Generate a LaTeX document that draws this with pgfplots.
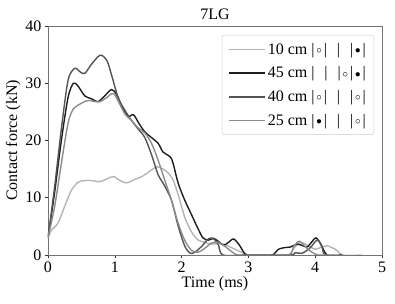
\documentclass[border=0pt]{standalone}
\usepackage{fontspec}
\setmainfont{Liberation Serif}
\usepackage{pgfplots}
\pgfplotsset{compat=1.18}
\definecolor{cA}{HTML}{B4B4B4}
\definecolor{cB}{HTML}{1E1E1E}
\definecolor{cC}{HTML}{545454}
\definecolor{cD}{HTML}{8C8C8C}
\newcommand{\fs}{\fontsize{16}{19}\selectfont}
\newcommand{\oo}{\hspace{0.12em}\raisebox{0.1ex}{$\scriptstyle\circ$}\hspace{0.12em}}
\newcommand{\bb}{\hspace{0.12em}\raisebox{0.1ex}{$\scriptstyle\bullet$}\hspace{0.12em}}
\newcommand{\br}{\hspace{0.62em}}
\begin{document}
\begin{tikzpicture}
\begin{axis}[
  scale only axis, width=334pt, height=229pt,
  xmin=0, xmax=5, ymin=0, ymax=40,
  xtick={0,1,2,3,4,5}, ytick={0,10,20,30,40},
  /pgf/number format/assume math mode=true,
  tick label style={font=\fs, black},
  label style={font=\fs},
  title style={font=\fs, yshift=-3pt},
  title={7LG},
  xlabel={Time (ms)}, ylabel={Contact force (kN)},
  xlabel style={yshift=3pt}, ylabel style={yshift=-2pt},
  axis line style={black!55, line width=0.8pt},
  tick style={black!80, line width=0.6pt},
  tick align=outside, major tick length=3pt,
  xtick pos=bottom, ytick pos=left,
  legend style={at={(1,1)}, anchor=north east, xshift=-8pt, yshift=-9pt,
    font=\fs, draw=black!20, rounded corners=2pt, fill=white,
    row sep=7pt, inner xsep=6pt, inner ysep=6pt},
  legend cell align=left,
  legend image code/.code={\draw[#1, line width=1.6pt] (0pt,0pt) -- (36pt,0pt);},
  every axis plot/.append style={line width=1.4pt, smooth, tension=0.5},
]
\addplot[cA] coordinates {
(0,3.0)(0.05,4.3)(0.15,5.6)(0.25,8.5)(0.35,11.3)(0.45,12.7)(0.55,13.0)(0.65,13.0)(0.78,12.8)(0.88,13.3)(0.98,13.7)(1.08,13.0)(1.18,12.6)(1.3,13.2)(1.42,13.8)(1.52,14.6)(1.63,15.4)(1.75,14.8)(1.86,13.4)(1.95,10.5)(2.05,6.5)(2.15,4.0)(2.25,2.6)(2.35,2.2)(2.45,1.9)(2.55,2.0)(2.65,1.8)(2.8,1.0)(2.95,0.2)(3.05,0)(3.3,0)(3.6,0)(3.68,1.2)(3.78,2.2)(3.9,1.6)(4.0,1.0)(4.1,1.4)(4.18,1.6)(4.3,1.0)(4.42,0)(4.7,0)
};
\addlegendentry{10 cm |\oo|\br|\br|\bb|}
\addplot[cB] coordinates {
(0,3.0)(0.1,11)(0.2,20)(0.3,27.5)(0.38,30.0)(0.45,29.5)(0.55,27.8)(0.65,27.3)(0.75,26.8)(0.85,27.8)(0.95,28.9)(1.03,28.0)(1.12,25.5)(1.2,24.2)(1.28,24.5)(1.36,23.0)(1.45,21.5)(1.55,20.5)(1.65,19.5)(1.72,18.0)(1.8,17.4)(1.86,16.5)(1.95,12.5)(2.05,9.5)(2.15,7.0)(2.25,4.5)(2.32,3.0)(2.4,2.6)(2.48,2.9)(2.56,2.3)(2.63,1.7)(2.7,2.2)(2.78,2.8)(2.86,1.8)(2.93,0.5)(2.98,0)(3.2,0)(3.36,0)(3.45,1.0)(3.55,1.3)(3.63,1.4)(3.73,1.9)(3.82,1.6)(3.88,1.4)(3.95,2.3)(4.01,3.0)(4.08,2.0)(4.18,0)(4.4,0)
};
\addlegendentry{45 cm |\br|\br|\oo|\bb|}
\addplot[cC] coordinates {
(0,3.0)(0.1,12)(0.2,22)(0.3,30.5)(0.4,32.6)(0.48,32.0)(0.55,31.7)(0.65,33.3)(0.78,34.9)(0.88,34.0)(0.95,31.5)(1.05,27.5)(1.15,25.3)(1.25,23.5)(1.35,22.0)(1.45,20.5)(1.55,17.5)(1.65,14.0)(1.75,12.0)(1.85,9.5)(1.95,5.0)(2.05,1.5)(2.13,0.3)(2.2,0.5)(2.3,1.5)(2.4,2.8)(2.47,2.9)(2.55,1.8)(2.62,0)(3.0,0)(3.62,0)(3.7,0.4)(3.8,0.3)(3.92,1.2)(4.03,2.6)(4.1,1.5)(4.15,0)(4.4,0)
};
\addlegendentry{40 cm |\oo|\br|\br|\oo|}
\addplot[cD] coordinates {
(0,3.0)(0.1,8.5)(0.2,16)(0.3,23)(0.38,25.5)(0.5,26.5)(0.6,27.0)(0.7,26.8)(0.78,26.8)(0.88,27.5)(0.98,28.2)(1.08,26.2)(1.16,24.5)(1.25,23.5)(1.35,22.2)(1.45,21.3)(1.55,19.5)(1.65,16.5)(1.75,13.0)(1.85,9.5)(1.95,5.5)(2.05,2.5)(2.15,0.8)(2.25,0.5)(2.35,1.2)(2.45,2.1)(2.55,2.2)(2.65,1.5)(2.75,0.6)(2.85,0)(3.2,0)(3.6,0)(3.68,1.5)(3.76,2.4)(3.85,1.5)(3.95,0.5)(4.05,0)(4.3,0)
};
\addlegendentry{25 cm |\bb|\br|\br|\oo|}
\end{axis}
\path (current axis.south west)++(-48pt,-49pt) coordinate (bl);
\path (current axis.north east)++(13pt,26pt) coordinate (tr);
\useasboundingbox (bl) rectangle (tr);
\end{tikzpicture}
\end{document}
